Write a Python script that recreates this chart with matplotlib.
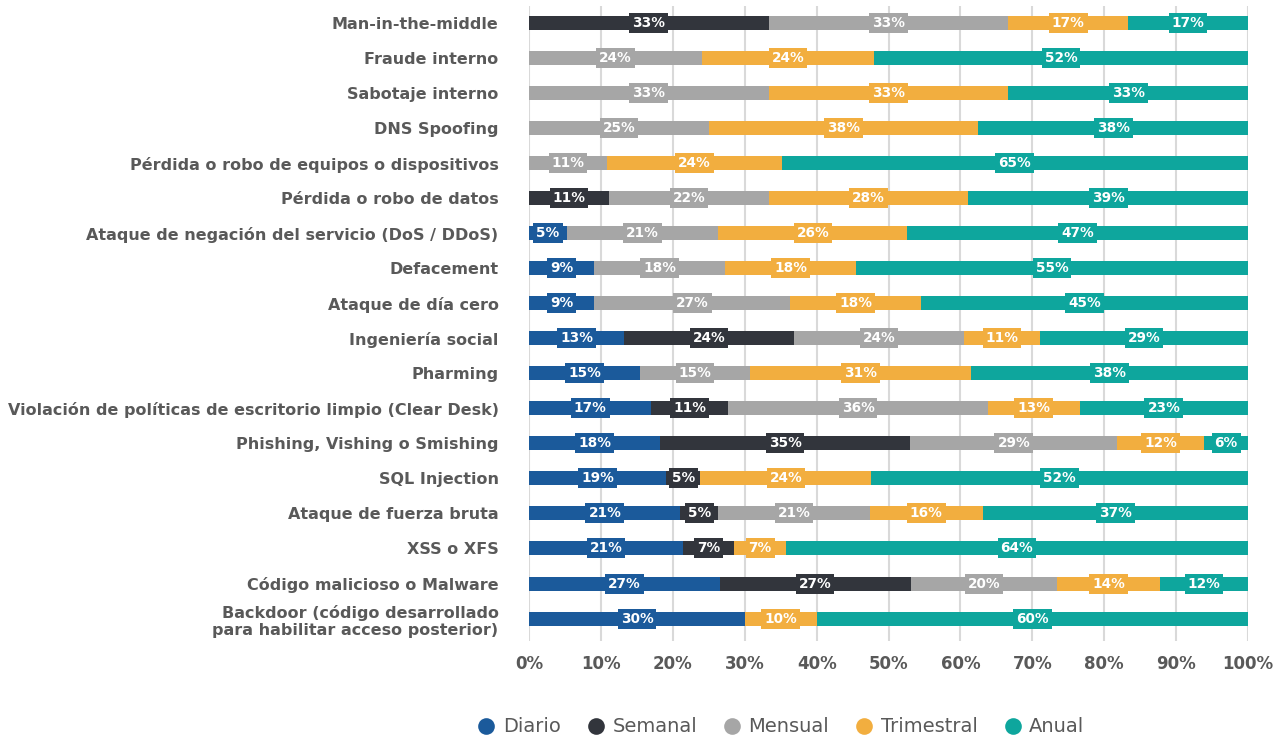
import numpy as np
import matplotlib
matplotlib.use("Agg")
import matplotlib.pyplot as plt
from matplotlib.lines import Line2D

categories = [
    "Man-in-the-middle",
    "Fraude interno",
    "Sabotaje interno",
    "DNS Spoofing",
    "Pérdida o robo de equipos o dispositivos",
    "Pérdida o robo de datos",
    "Ataque de negación del servicio (DoS / DDoS)",
    "Defacement",
    "Ataque de día cero",
    "Ingeniería social",
    "Pharming",
    "Violación de políticas de escritorio limpio (Clear Desk)",
    "Phishing, Vishing o Smishing",
    "SQL Injection",
    "Ataque de fuerza bruta",
    "XSS o XFS",
    "Código malicioso o Malware",
    "Backdoor (código desarrollado\npara habilitar acceso posterior)",
]

series = ["Diario", "Semanal", "Mensual", "Trimestral", "Anual"]
colors = ["#1B5A9B", "#32353C", "#A6A6A6", "#F2AE3F", "#0EA69D"]

diario = [0, 0, 0, 0, 0, 0, 5.26, 9.09, 9.09, 13.16, 15.38, 17.02, 18.18, 19.05, 21.05, 21.43, 26.53, 30]
semanal = [33.33, 0, 0, 0, 0, 11.11, 0, 0, 0, 23.68, 0, 10.64, 34.85, 4.76, 5.26, 7.14, 26.53, 0]
mensual = [33.33, 24, 33.33, 25, 10.81, 22.22, 21.05, 18.18, 27.27, 23.68, 15.38, 36.17, 28.79, 0, 21.05, 0, 20.41, 0]
trimestral = [16.67, 24, 33.33, 37.5, 24.32, 27.78, 26.32, 18.18, 18.18, 10.53, 30.77, 12.77, 12.12, 23.81, 15.79, 7.14, 14.29, 10]
anual = [16.67, 52, 33.33, 37.5, 64.86, 38.89, 47.37, 54.55, 45.45, 28.95, 38.46, 23.40, 6.06, 52.38, 36.84, 64.29, 12.24, 60]

data = [diario, semanal, mensual, trimestral, anual]

text_color = "#595959"

fig = plt.figure(figsize=(12.78, 7.38), dpi=100)
ax = fig.add_axes([0.414, 0.131, 0.5625, 0.8615])

y = np.arange(len(categories))
left = np.zeros(len(categories))
for vals, col in zip(data, colors):
    vals = np.array(vals, dtype=float)
    ax.barh(y, vals, left=left, height=0.4, color=col, zorder=2)
    for yi, (l, v) in enumerate(zip(left, vals)):
        if v > 0:
            ax.text(l + v / 2, yi, f"{int(np.floor(v + 0.5))}%", ha="center", va="center",
                    color="white", fontsize=9.8, fontweight="bold", zorder=3,
                    bbox=dict(boxstyle="square,pad=0.22", fc=col, ec="none"))
    left += vals

ax.set_xlim(0, 100)
ax.set_ylim(17.65, -0.5)
ax.set_xticks(np.arange(0, 101, 10))
ax.set_xticklabels([f"{t}%" for t in range(0, 101, 10)])
ax.set_yticks(y)
ax.set_yticklabels(categories, fontsize=11.5, fontweight="bold", color=text_color)
ax.tick_params(axis="x", length=0, pad=10, labelsize=12, labelcolor=text_color)
ax.tick_params(axis="y", length=0, pad=22)
for lbl in ax.get_xticklabels():
    lbl.set_fontweight("bold")
ax.xaxis.grid(True, color="#D9D9D9", lw=1.5, zorder=0)
ax.set_axisbelow(True)
for s in ax.spines.values():
    s.set_visible(False)

handles = [Line2D([], [], marker="o", ls="none", markersize=12, markerfacecolor=c,
                  markeredgecolor="none") for c in colors]
fig.legend(handles, series, loc="center", bbox_to_anchor=(0.607, 0.015), ncol=5,
           frameon=False, fontsize=14, labelcolor=text_color, handletextpad=-0.15,
           columnspacing=0.8)

fig.savefig("out.png", dpi=100)
